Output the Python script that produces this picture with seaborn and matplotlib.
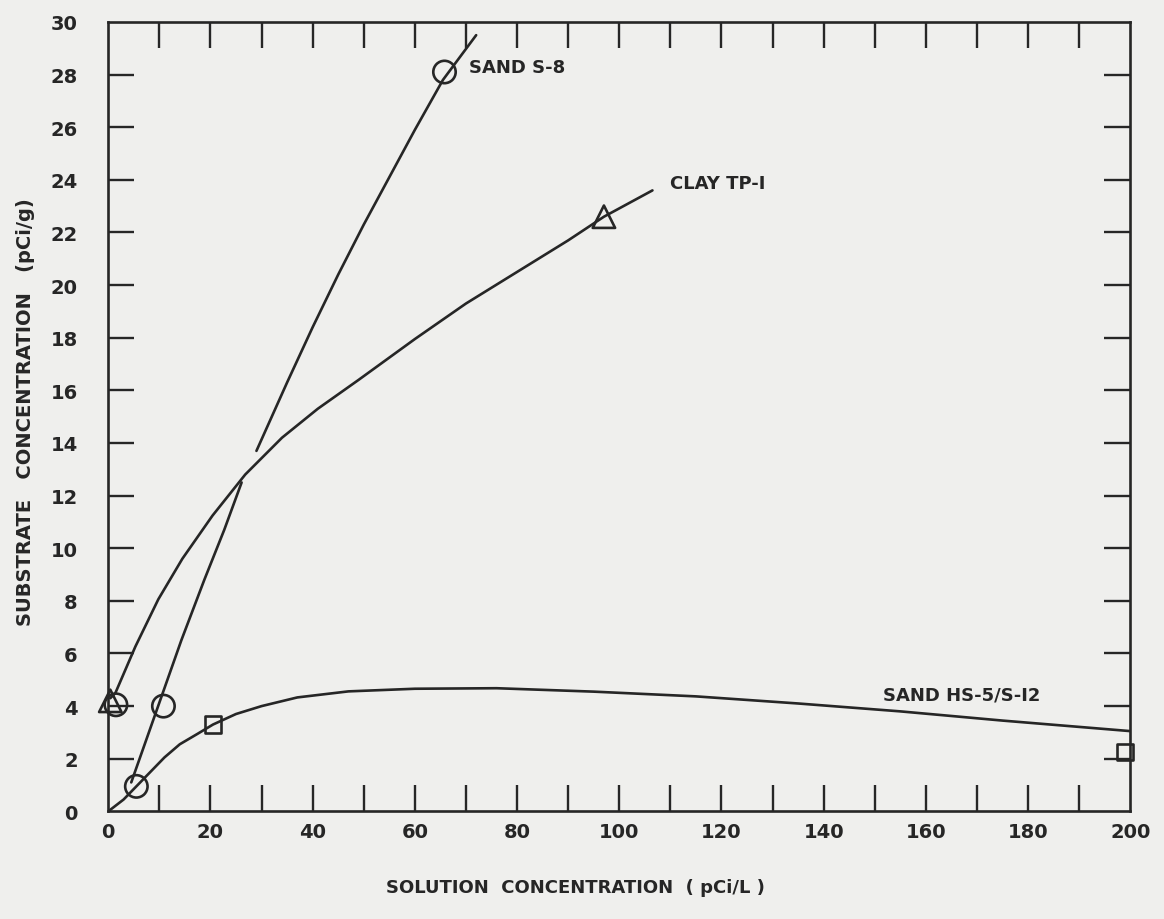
import numpy as np
import pandas as pd
import seaborn as sns
from matplotlib import pyplot as plt

### data ###
# fitted curves (hand drawn in the original), S-8 is broken where it crosses the clay curve
s8_low_x = [4.5, 9.0, 14.3, 18.8, 22.7, 26.1]
s8_low_y = [1.1, 3.58, 6.5, 8.8, 10.7, 12.5]
s8_up_x = [29.0, 35.0, 40.0, 45.0, 50.0, 55.0, 60.0, 65.5, 72.0]
s8_up_y = [13.7, 16.3, 18.4, 20.4, 22.3, 24.1, 25.9, 27.8, 29.5]

clay_x = [0.4, 1.4, 5.3, 9.8, 14.5, 20.4, 26.8, 34.0, 41.0, 49.0, 60.0, 70.0, 80.0, 90.0,
          97.0, 106.5]
clay_y = [4.3, 4.5, 6.26, 8.06, 9.6, 11.24, 12.8, 14.2, 15.3, 16.4, 17.95, 19.3, 20.5, 21.7,
          22.6, 23.6]

hs5_x = [0, 3, 5.5, 8, 11, 14, 17.5, 20.5, 25, 30, 37, 47, 60, 76, 95, 115, 135, 155, 175, 200]
hs5_y = [0, 0.45, 0.95, 1.45, 2.05, 2.55, 2.95, 3.3, 3.7, 4.0, 4.33, 4.56, 4.66, 4.68,
         4.55, 4.37, 4.1, 3.8, 3.45, 3.05]

# measured points
circle_x = [1.5, 5.5, 10.8, 65.8]
circle_y = [4.05, 0.95, 4.0, 28.1]
tri_x = [0.4, 97.0]
tri_y = [4.2, 22.6]
square_x = [20.5, 199.0]
square_y = [3.3, 2.25]

# labels
curve_names = ['SAND S-8', 'CLAY TP-I', 'SAND HS-5/S-I2']
label_x = [70.6, 110.0, 151.7]
label_y = [28.3, 23.9, 4.45]

x_ticks = list(range(0, 201, 10))
x_tick_labels = ['0', '', '20', '', '40', '', '60', '', '80', '', '100', '', '120', '', '140', '',
                 '160', '', '180', '', '200']
y_ticks = list(range(0, 31, 2))
y_tick_labels = ['0', '2', '4', '6', '8', '10', '12', '14', '16', '18', '20', '22', '24', '26',
                 '28', '30']

### style ###
paper = '#efefed'
ink = '#262626'
sns.set_theme(style='ticks')
plt.rcParams['font.family'] = ['DejaVu Sans']
plt.rcParams['axes.edgecolor'] = ink
plt.rcParams['xtick.color'] = ink
plt.rcParams['ytick.color'] = ink

fig = plt.figure(figsize=(11.64, 9.2), dpi=100, facecolor=paper)
ax = fig.add_axes([0.093, 0.117, 0.878, 0.858])
ax.set_facecolor(paper)

# curves
s8 = pd.DataFrame({'x': s8_low_x + s8_up_x,
                   'y': s8_low_y + s8_up_y,
                   'seg': [0] * len(s8_low_x) + [1] * len(s8_up_x)})
sns.lineplot(data=s8, x='x', y='y', units='seg', estimator=None, sort=False,
             color=ink, linewidth=1.9, ax=ax)
sns.lineplot(x=clay_x, y=clay_y, sort=False, color=ink, linewidth=1.9, ax=ax)
sns.lineplot(x=hs5_x, y=hs5_y, sort=False, color=ink, linewidth=1.9, ax=ax)

# points
pt_kw = dict(facecolor='none', edgecolor=ink, linewidth=1.9, ax=ax, zorder=3, clip_on=False)
sns.scatterplot(x=circle_x, y=circle_y, marker='o', s=260, **pt_kw)
sns.scatterplot(x=tri_x, y=tri_y, marker='^', s=260, **pt_kw)
sns.scatterplot(x=square_x, y=square_y, marker='s', s=140, **pt_kw)

for name, lx, ly in zip(curve_names, label_x, label_y):
    ax.text(lx, ly, name, fontsize=13, fontweight='bold', color=ink, ha='left', va='center')

ax.set_xlim(0, 200)
ax.set_ylim(0, 30)
ax.set_xticks(x_ticks)
ax.set_xticklabels(x_tick_labels, fontsize=14)
ax.set_yticks(y_ticks)
ax.set_yticklabels(y_tick_labels, fontsize=14)
ax.tick_params(axis='both', direction='in', length=19, width=1.7,
               top=True, right=True, colors=ink)
ax.tick_params(axis='x', pad=8)
ax.tick_params(axis='y', pad=22)
# no tick marks sitting on the corners
for t in [ax.xaxis.get_major_ticks()[0], ax.xaxis.get_major_ticks()[-1],
          ax.yaxis.get_major_ticks()[0], ax.yaxis.get_major_ticks()[-1]]:
    t.tick1line.set_visible(False)
    t.tick2line.set_visible(False)
for lab in ax.get_xticklabels() + ax.get_yticklabels():
    lab.set_fontweight('bold')
for sp in ax.spines.values():
    sp.set_visible(True)
    sp.set_linewidth(1.9)
    sp.set_color(ink)

ax.set_xlabel('SOLUTION  CONCENTRATION  ( pCi/L )', fontsize=13, fontweight='bold', color=ink)
ax.set_ylabel('SUBSTRATE   CONCENTRATION   (pCi/g)', fontsize=14, fontweight='bold', color=ink)
ax.xaxis.set_label_coords(0.457, -0.085)
ax.yaxis.set_label_coords(-0.072, 0.507)

fig.savefig('out.png', dpi=100, facecolor=paper)
